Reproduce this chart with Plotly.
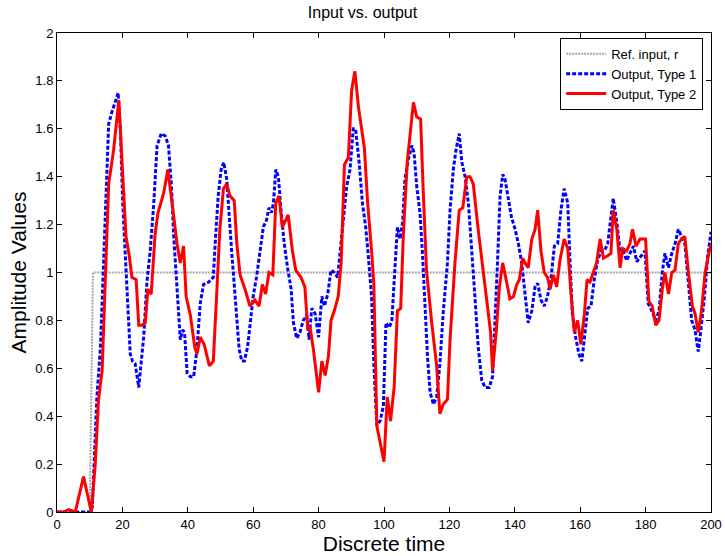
import plotly.graph_objects as go

# Reference input r
ref_x = [0, 10, 11, 200]
ref_y = [0, 0, 1, 1]

# Output, Type 1 (blue)
t1_x = [0, 10, 10.8, 11.7, 12.2, 13.3, 13.8, 14.3, 14.8, 15.3, 15.8, 16.8, 17.8, 18.7, 19.4, 20.1, 20.9,
        21.7, 22.4, 23.1, 23.9, 25, 25.8, 26.5, 27.5, 28.5, 29.6, 30.6, 31.9, 33.1, 34.1, 35, 35.7, 36.4,
        37.2, 37.7, 38.4, 39, 39.8, 40.8, 41.8, 42.8, 43.8, 44.8, 46.4, 47.8, 48.5, 49.3, 50.2, 51, 51.9,
        52.6, 53.4, 54.2, 55, 55.7, 56.5, 57.3, 58.3, 59, 60, 61, 62.1, 63.1, 64.1, 64.8, 65.6, 66.2, 66.9,
        67.7, 68.5, 69.5, 70.5, 71.6, 72.3, 73.3, 74.3, 75.3, 76.4, 77.1, 77.9, 78.9, 80, 81, 81.8, 82.8,
        83.8, 84.8, 85.8, 86.9, 87.9, 88.6, 89.6, 90.6, 91.3, 92.4, 93.4, 94.4, 95.2, 96.2, 96.9, 97.8,
        98.8, 99.8, 100.6, 101.6, 102.4, 103.4, 104.1, 104.9, 105.7, 106.4, 107.4, 108.5, 109.2, 110, 111,
        111.8, 112.5, 113.3, 114.1, 115.1, 116.1, 117.1, 118.1, 119.4, 120.2, 121.2, 122, 123, 123.8,
        124.8, 125.8, 126.8, 127.8, 128.8, 129.9, 130.9, 132.2, 133.2, 134, 134.7, 135.5, 136.3, 137, 138,
        139, 140.1, 141.1, 142.1, 143.1, 144.1, 145.2, 146.2, 147, 148, 149, 150, 151.1, 152.1, 153.1,
        154.1, 155.1, 156.2, 156.9, 157.6, 158.6, 159.6, 160.5, 161.3, 162.3, 163.3, 164.3, 165.3, 166.4,
        167.4, 168.4, 169.4, 170.1, 171.2, 172.2, 173.2, 174.2, 175.2, 176.3, 177.3, 178.6, 179.8, 180.8,
        181.9, 183.1, 184.1, 185.1, 185.9, 187, 188, 189, 190, 191, 192, 193.1, 194.1, 195.1, 196.1, 196.9,
        198, 199, 200]
t1_y = [0, 0, 0.02, 0.37, 0.48, 0.69, 0.87, 1.04, 1.29, 1.48, 1.62, 1.67, 1.71, 1.75, 1.59, 1.29, 1.07,
        0.84, 0.66, 0.63, 0.62, 0.52, 0.62, 0.73, 0.96, 1.09, 1.29, 1.53, 1.58, 1.57, 1.53, 1.36, 1.15, 1.01,
        0.84, 0.72, 0.76, 0.75, 0.58, 0.565, 0.565, 0.68, 0.87, 0.95, 0.96, 0.98, 1.15, 1.32, 1.43, 1.46, 1.39,
        1.23, 1.09, 0.95, 0.79, 0.68, 0.63, 0.63, 0.69, 0.79, 0.90, 0.98, 1.08, 1.19, 1.22, 1.27, 1.25, 1.29,
        1.43, 1.40, 1.26, 1.12, 1.02, 0.93, 0.79, 0.725, 0.75, 0.80, 0.82, 0.72, 0.85, 0.83, 0.73, 0.90, 0.86,
        0.91, 1.01, 1.00, 0.98, 1.12, 1.27, 1.36, 1.43, 1.60, 1.60, 1.46, 1.29, 1.19, 1.07, 0.90, 0.62, 0.36,
        0.38, 0.44, 0.79, 0.77, 0.80, 1.04, 1.19, 1.14, 1.21, 1.39, 1.47, 1.53, 1.50, 1.36, 1.25,
        1.07, 0.87, 0.65, 0.50, 0.45, 0.48, 0.62, 0.83, 1.04, 1.26, 1.43, 1.51, 1.58, 1.46,
        1.40, 1.29, 1.11, 0.90, 0.69, 0.55, 0.52, 0.52, 0.565, 0.79, 1.04, 1.32, 1.41, 1.39, 1.30,
        1.23, 1.18, 1.12, 1.04, 0.90, 0.79, 0.84, 0.94, 0.955, 0.885, 0.86, 0.90, 0.98, 1.11, 1.12,
        1.26, 1.35, 1.29, 1.04, 0.83, 0.73, 0.66, 0.63, 0.73, 0.85, 0.86, 0.97, 1.05, 1.09,
        1.09, 1.12, 1.23, 1.31, 1.21, 1.09, 1.09, 1.05, 1.08, 1.11, 1.045, 1.07, 1.09, 0.87,
        0.84, 0.80, 0.84, 1.00, 1.08, 1.02, 1.08, 1.12, 1.18, 1.15, 1.12, 0.955, 0.80, 0.76, 0.67, 0.76,
        0.90, 1.07, 1.17]

# Output, Type 2 (red)
t2_x = [0, 2, 3.6, 5.6, 8.1, 10.5, 11.7, 12.7, 13.8, 14.8, 15.8, 17.3, 18.3, 18.9, 19.4, 20.4, 21.1, 22.1,
        22.9, 24.2, 25, 26, 27, 27.8, 28.8, 30, 30.9, 32.6, 33.9, 35.2, 36.7, 37.7, 38.7, 39.5, 40.8, 42.1,
        42.8, 43.8, 45, 46.6, 47.8, 48.8, 49.8, 50.9, 51.9, 52.9, 54.2, 55, 56, 57.5, 59, 60.5, 61.8, 62.8,
        63.8, 64.8, 66, 66.9, 67.9, 68.9, 70.7, 72, 73, 74.6, 75.8, 76.7, 77.4, 78.4, 80, 81, 82, 83, 83.8,
        84.8, 86, 86.9, 87.9, 89.1, 90.1, 91.1, 92.2, 94, 95, 96.2, 96.9, 97.8, 98.8, 100, 101, 102, 103.1,
        104.1, 105.1, 105.9, 107.1, 108.2, 109, 110, 111.2, 112, 113, 114.6, 116.1, 117.1, 118.1, 119.4,
        120.2, 121.7, 123, 124.1, 125.3, 126.3, 127.3, 128.8, 130.4, 131.9, 132.6, 133.2, 134.3, 135.3,
        136.3, 137.5, 138.5, 139.6, 140.6, 141.4, 142.4, 143.1, 144.1, 145.2, 146.2, 147, 148, 149, 150,
        150.8, 151.8, 152.8, 153.8, 155.1, 156.2, 157.2, 158.2, 159.2, 160.2, 161.3, 162.1, 163, 164, 165,
        166.1, 167.1, 168.4, 169.4, 170.1, 171.2, 172.2, 173, 174.2, 175.2, 176, 177.1, 178.3, 180, 181,
        182, 183.1, 184.1, 185.1, 185.9, 187, 188, 189, 190, 191, 192, 193.1, 194.3, 195.1, 196.1, 197.1,
        198.2, 199.2, 200]
t2_y = [0, 0, 0.01, 0, 0.148, 0, 0.2, 0.47, 0.59, 1.01, 1.37, 1.51, 1.64, 1.72, 1.59, 1.32, 1.15, 1.07,
        0.98, 0.97, 0.78, 0.78, 0.79, 0.93, 0.91, 1.16, 1.25, 1.33, 1.43, 1.29, 1.12, 1.04, 1.11, 0.90, 0.82,
        0.69, 0.66, 0.73, 0.70, 0.61, 0.63, 0.90, 1.18, 1.35, 1.37, 1.32, 1.30, 1.12, 0.99, 0.93, 0.86, 0.885,
        0.86, 0.95, 0.91, 1.00, 0.99, 1.29, 1.32, 1.19, 1.24, 1.09, 1.01, 0.98, 0.94, 0.76, 0.77, 0.68, 0.50,
        0.63, 0.57, 0.65, 0.80, 0.84, 0.90, 1.04, 1.45, 1.48, 1.76, 1.84, 1.69, 1.52, 1.29, 1.09, 0.95, 0.36,
        0.29, 0.21, 0.48, 0.38, 0.52, 0.84, 0.85, 1.15, 1.46, 1.61, 1.71, 1.65, 1.64, 1.34, 1.01, 0.79, 0.61,
        0.41, 0.45, 0.47, 0.72, 1.04, 1.26, 1.27, 1.40, 1.40, 1.37, 1.18, 1.00, 0.83, 0.75, 0.59, 0.75, 0.94,
        1.04, 0.96, 0.89, 0.90, 0.95, 0.97, 1.06, 1.04, 1.02, 1.14, 1.18, 1.26, 1.09, 1.00, 0.98, 0.93, 0.99,
        0.94, 1.05, 1.14, 1.10, 0.91, 0.75, 0.80, 0.70, 0.83, 0.97, 0.96, 1.00, 1.04, 1.14, 1.06, 1.07, 1.08,
        1.26, 1.18, 1.02, 1.10, 1.09, 1.12, 1.18, 1.11, 1.14, 1.14, 0.88, 0.86, 0.78, 0.80, 0.93, 1.00, 0.91,
        1.00, 1.01, 1.12, 1.14, 1.15, 1.00, 0.86, 0.83, 0.75, 0.84, 1.00, 1.07, 1.12]

x_ticks = list(range(0, 201, 20))
y_ticks = [0, 0.2, 0.4, 0.6, 0.8, 1, 1.2, 1.4, 1.6, 1.8, 2]
y_tick_labels = ["0", "0.2", "0.4", "0.6", "0.8", "1", "1.2", "1.4", "1.6", "1.8", "2"]

FONT = "Liberation Sans, Arial, sans-serif"

fig = go.Figure()
fig.add_trace(go.Scatter(x=ref_x, y=ref_y, mode="lines", name="Ref. input, r",
                         line=dict(color="#a6a6a6", width=2, dash="2px,1px")))
fig.add_trace(go.Scatter(x=t1_x, y=t1_y, mode="lines", name="Output, Type 1",
                         line=dict(color="#0000ff", width=3, dash="4px,2px")))
fig.add_trace(go.Scatter(x=t2_x, y=t2_y, mode="lines", name="Output, Type 2",
                         line=dict(color="#ff0000", width=3)))

axis_common = dict(showgrid=False, zeroline=False, showline=True, linecolor="black", linewidth=1,
                   mirror="ticks", ticks="inside", ticklen=5, tickcolor="black", automargin=False,
                   tickfont=dict(family=FONT, size=13, color="black"))

fig.update_layout(
    width=725, height=556,
    margin=dict(l=57, r=14, t=33, b=44),
    paper_bgcolor="white", plot_bgcolor="white",
    title=dict(text="Input vs. output", x=0.5, xanchor="center", y=0.977, yanchor="middle",
               font=dict(family=FONT, size=16, color="black")),
    xaxis=dict(range=[0, 200], tickvals=x_ticks,
               title=dict(text="Discrete time", font=dict(family=FONT, size=21, color="black"), standoff=0),
               **axis_common),
    yaxis=dict(range=[0, 2], tickvals=y_ticks, ticktext=y_tick_labels,
               title=dict(text="Amplitude Values", font=dict(family=FONT, size=21, color="black"), standoff=2),
               **axis_common),
    legend=dict(x=0.988, y=0.99, xanchor="right", yanchor="top", bgcolor="white",
                bordercolor="black", borderwidth=1, font=dict(family=FONT, size=13, color="black"),
                tracegroupgap=0, itemwidth=40),
    showlegend=True,
)

fig.write_html("out.html", config={"displayModeBar": False},
               post_script="document.body.style.margin='0';document.body.style.padding='0';")
